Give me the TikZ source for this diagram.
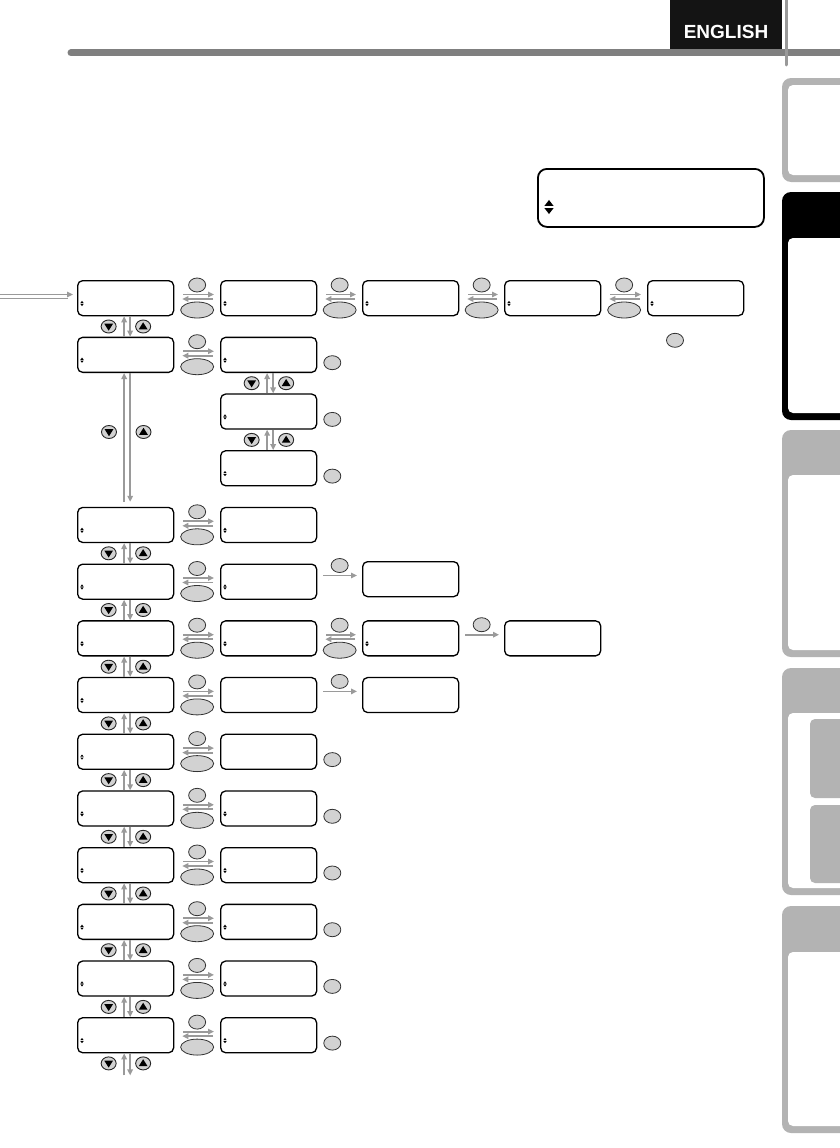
\documentclass[tikz,border=0pt]{standalone}
\usepackage{fontspec}
\usetikzlibrary{arrows.meta,shapes.geometric,calc}
\newfontfamily\hdrfont{Liberation Sans}
\definecolor{tabgray}{HTML}{B3B3B3}
\definecolor{bargray}{HTML}{7F7F7F}
\definecolor{vlinegray}{HTML}{999999}
\definecolor{arrgray}{HTML}{9A9A9A}
\definecolor{btnfill}{HTML}{D2D2D2}
\tikzset{
  lcd/.style={draw, line width=1.3pt, rounded corners=5pt, minimum width=96pt, minimum height=35pt, inner sep=0pt, anchor=north west},
  garrow/.style={draw=arrgray, line width=1.8pt, -{Triangle[length=6pt,width=5.5pt]}},
  okbtn/.style={ellipse, draw=black!80, fill=btnfill, line width=.8pt, minimum width=17pt, minimum height=14pt, inner sep=0pt},
  escbtn/.style={ellipse, draw=black!80, fill=btnfill, line width=.8pt, minimum width=33pt, minimum height=16pt, inner sep=0pt},
  updn/.pic={\fill (-1.7,-0.4)--(1.7,-0.4)--(0,-2.6)--cycle; \fill (-1.7,0.4)--(1.7,0.4)--(0,2.6)--cycle;},
  dnbtn/.pic={\path[draw=black!85, fill=btnfill, line width=.9pt] (0,0) ellipse [x radius=7.5, y radius=6.5]; \fill (-4.4,-2.8)--(4.4,-2.8)--(0,4.2)--cycle;},
  upbtn/.pic={\path[draw=black!85, fill=btnfill, line width=.9pt] (0,0) ellipse [x radius=7.5, y radius=6.5]; \fill (-4.4,2.8)--(4.4,2.8)--(0,-4.2)--cycle;}
}
\newcommand\lcdbox[4]{\node[lcd] (#1) at (#2,#3) {};\ifnum#4=1 \pic at ($(#1.north west)+(5,23.5)$) {updn};\fi}
\newcommand\twoway[2]{%
  \path (#1.north east) -- (#2.north west) coordinate[pos=.5] (#1-#2-m);
  \node[okbtn] (#1-#2-ok) at ($(#1-#2-m)+(0,5)$) {};
  \node[escbtn] (#1-#2-esc) at ($(#1-#2-m)+(0,30)$) {};
  \draw[garrow] ($(#1.north east)+(9,14.5)$) -- ($(#2.north west)+(-6,14.5)$);
  \draw[garrow] ($(#2.north west)+(-7,19)$) -- ($(#1.north east)+(8,19)$);
}
\newcommand\oneway[2]{%
  \path (#1.north east) -- (#2.north west) coordinate[pos=.5] (#1-#2-m);
  \node[okbtn] (#1-#2-ok) at ($(#1-#2-m |- #2.north)+(0,4.5)$) {};
  \draw[garrow] ($(#1.north east |- #2.north)+(6,14.5)$) -- ($(#2.north west)+(-5,14.5)$);
}
\newcommand\updown[2]{%
  \draw[garrow] ($(#2.north)+(-1.5,0)$) -- ($(#1.south)+(-1.5,0)$);
  \draw[garrow] ($(#1.south)+(4.5,0)$) -- ($(#2.north)+(4.5,0)$);
  \path (#1.south) -- (#2.north) coordinate[pos=.5] (#1-#2-c);
  \pic at ($(#1-#2-c)+(-17,0)$) {dnbtn};
  \pic at ($(#1-#2-c)+(17.5,0)$) {upbtn};
}
\newcommand\sidebtn[1]{\node[okbtn] (#1-side) at ($(#1.north east)+(15,26)$) {};}
\newcommand\sidetab[4]{%
  \fill[#4, rounded corners=9pt] (782,#1) rectangle (870,#3);
  \fill[white, rounded corners=5pt] (788,#2) rectangle (870,{#3-7});
}
\begin{document}
\begin{tikzpicture}[x=1pt,y=-1pt]
\useasboundingbox (0,0) rectangle (840,1148);
\clip (0,0) rectangle (840,1148);
\fill[white] (0,0) rectangle (840,1148);

% header
\fill[black!92] (670,0) rectangle (782,50);
\node[font=\hdrfont\bfseries\fontsize{19}{19}\selectfont, text=white, anchor=base, inner sep=0pt] (eng) at (726,38) {ENGLISH};
\draw[bargray, line width=7pt, line cap=round] (71,53) -- (850,53);
\draw[vlinegray, line width=3pt, line cap=round] (786,-5) -- (786,65);

% side tabs
\sidetab{78}{85}{182}{tabgray}
\sidetab{192}{238}{420}{black}
\sidetab{430}{475}{657}{tabgray}
\sidetab{668}{713}{895}{tabgray}
\fill[tabgray, rounded corners=5pt] (810,719) rectangle (870,798);
\fill[tabgray, rounded corners=5pt] (810,805) rectangle (870,883);
\sidetab{906}{952}{1133}{tabgray}

% display box
\node[draw, line width=1.8pt, rounded corners=9pt, minimum width=226pt, minimum height=58pt, inner sep=0pt, anchor=north west] (disp) at (537,168) {};
\pic[scale=2.7] at ($(disp.north west)+(12,39)$) {updn};

% boxes
\lcdbox{r1-1}{77}{280}{1}
\lcdbox{r1-2}{220}{280}{1}
\lcdbox{r1-3}{362}{280}{1}
\lcdbox{r1-4}{504}{280}{1}
\lcdbox{r1-5}{647}{280}{1}
\lcdbox{r2-1}{77}{336.7}{1}
\lcdbox{r2-2}{220}{336.7}{1}
\lcdbox{r3-2}{220}{393.4}{1}
\lcdbox{r4-2}{220}{450.1}{1}
\lcdbox{r5-1}{77}{506.8}{1}
\lcdbox{r5-2}{220}{506.8}{1}
\lcdbox{r6-1}{77}{563.5}{1}
\lcdbox{r6-2}{220}{563.5}{1}
\lcdbox{r6-3}{362}{561}{0}
\lcdbox{r7-1}{77}{620.2}{1}
\lcdbox{r7-2}{220}{620.2}{1}
\lcdbox{r7-3}{362}{620.2}{1}
\lcdbox{r7-4}{504}{620.2}{0}
\lcdbox{r8-1}{77}{676.9}{1}
\lcdbox{r8-2}{220}{676.9}{0}
\lcdbox{r8-3}{362}{676.9}{0}
\lcdbox{r9-1}{77}{733.6}{1}
\lcdbox{r9-2}{220}{733.6}{0}
\lcdbox{r10-1}{77}{790.3}{1}
\lcdbox{r10-2}{220}{790.3}{1}
\lcdbox{r11-1}{77}{847}{1}
\lcdbox{r11-2}{220}{847}{1}
\lcdbox{r12-1}{77}{903.7}{1}
\lcdbox{r12-2}{220}{903.7}{1}
\lcdbox{r13-1}{77}{960.4}{1}
\lcdbox{r13-2}{220}{960.4}{1}
\lcdbox{r14-1}{77}{1017.1}{1}
\lcdbox{r14-2}{220}{1017.1}{1}
\node[inner sep=0pt, minimum size=0pt] (tail) at ($(r14-1.south)+(0,22)$) {};

% entry arrow
\coordinate (entry) at (0,294.5);
\coordinate (entry2) at (0,298.5);
\draw[arrgray, line width=1.8pt] (entry2) -- ($(r1-1.north west)+(-9,18.5)$);
\draw[garrow] (entry) -- ($(r1-1.north west)+(-4,14.5)$);

% horizontal transitions
\twoway{r1-1}{r1-2}
\twoway{r1-2}{r1-3}
\twoway{r1-3}{r1-4}
\twoway{r1-4}{r1-5}
\node[okbtn] (r1-5-extra) at ($(r1-5.south west)+(28,24)$) {};
\twoway{r2-1}{r2-2}
\twoway{r5-1}{r5-2}
\twoway{r6-1}{r6-2}
\oneway{r6-2}{r6-3}
\twoway{r7-1}{r7-2}
\twoway{r7-2}{r7-3}
\oneway{r7-3}{r7-4}
\twoway{r8-1}{r8-2}
\oneway{r8-2}{r8-3}
\twoway{r9-1}{r9-2}
\twoway{r10-1}{r10-2}
\twoway{r11-1}{r11-2}
\twoway{r12-1}{r12-2}
\twoway{r13-1}{r13-2}
\twoway{r14-1}{r14-2}

% side buttons
\sidebtn{r2-2}
\sidebtn{r3-2}
\sidebtn{r4-2}
\sidebtn{r9-2}
\sidebtn{r10-2}
\sidebtn{r11-2}
\sidebtn{r12-2}
\sidebtn{r13-2}
\sidebtn{r14-2}

% vertical transitions
\updown{r1-1}{r2-1}
\updown{r2-2}{r3-2}
\updown{r3-2}{r4-2}
\draw[garrow, shorten <=5pt] ($(r5-1.north)+(-1.5,0)$) -- ($(r2-1.south)+(-1.5,0)$);
\draw[garrow, shorten >=5pt] ($(r2-1.south)+(4.5,0)$) -- ($(r5-1.north)+(4.5,0)$);
\pic at (109,432) {dnbtn};
\pic at (143.5,432) {upbtn};
\updown{r5-1}{r6-1}
\updown{r6-1}{r7-1}
\updown{r7-1}{r8-1}
\updown{r8-1}{r9-1}
\updown{r9-1}{r10-1}
\updown{r10-1}{r11-1}
\updown{r11-1}{r12-1}
\updown{r12-1}{r13-1}
\updown{r13-1}{r14-1}
\draw[garrow] ($(tail)+(-1.5,0)$) -- ($(r14-1.south)+(-1.5,0)$);
\draw[garrow] ($(r14-1.south)+(4.5,0)$) -- ($(tail)+(4.5,0)$);
\pic at ($(r14-1.south)+(-17,10)$) {dnbtn};
\pic at ($(r14-1.south)+(17.5,10)$) {upbtn};
\end{tikzpicture}
\end{document}
